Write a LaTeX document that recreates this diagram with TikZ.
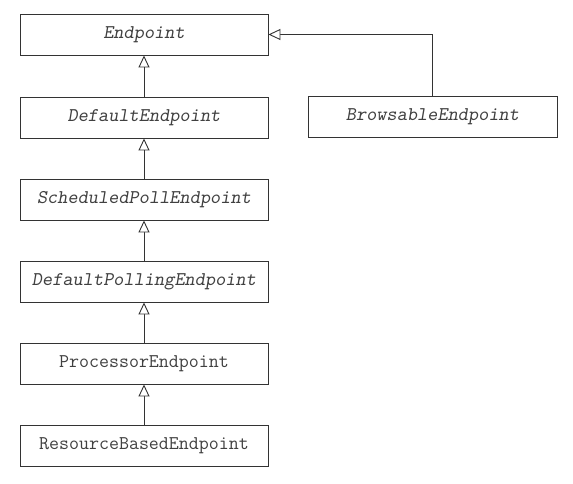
\documentclass[tikz,border=0pt]{standalone}
\usepackage{fontspec}
\usetikzlibrary{arrows.meta}
\begin{document}
\begin{tikzpicture}[x=1pt,y=-1pt,
  cls/.style={draw=black!80, line width=0.9pt, fill=white, rectangle,
    minimum width=248pt, minimum height=41pt, inner sep=0pt,
    font=\ttfamily\fontsize{19.4}{22}\selectfont, text=black!75},
  abs/.style={cls, font=\ttfamily\slshape\fontsize{19.4}{22}\selectfont},
  inh/.style={draw=black!80, line width=0.9pt,
    -{Triangle[open, length=12pt, width=11pt, fill=white]}}]
\useasboundingbox (0,0) rectangle (573,484);

\node[abs] (ep)   at (144,34.5)  {Endpoint};
\node[abs] (dep)  at (144,117.5) {DefaultEndpoint};
\node[abs] (spe)  at (144,199.5) {ScheduledPollEndpoint};
\node[abs] (dpe)  at (144,281.5) {DefaultPollingEndpoint};
\node[cls] (pe)   at (144,363.5) {ProcessorEndpoint};
\node[cls] (rbe)  at (144,446)   {ResourceBasedEndpoint};
\node[abs, minimum width=249pt] (bre) at (432.5,117) {BrowsableEndpoint};

\draw[inh] (dep) -- (ep);
\draw[inh] (spe) -- (dep);
\draw[inh] (dpe) -- (spe);
\draw[inh] (pe)  -- (dpe);
\draw[inh] (rbe) -- (pe);
\draw[inh] (bre.north) |- (ep.east);
\end{tikzpicture}
\end{document}
